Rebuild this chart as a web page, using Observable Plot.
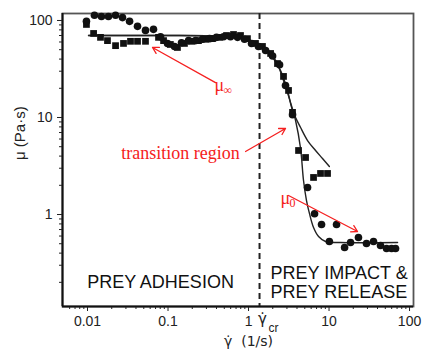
<!DOCTYPE html>
<html><head><meta charset="utf-8">
<script src="https://cdn.jsdelivr.net/npm/d3@7"></script>
<script src="https://cdn.jsdelivr.net/npm/@observablehq/plot@0.6"></script>
<style>body{margin:0;background:#fff}</style>
</head><body><div id="chart"></div>
<script>
// shear rate (1/s) and viscosity (Pa·s), circle series
const circleX = [0.0097,0.0122,0.0149,0.0182,0.0223,0.0272,0.0333,0.0418,0.0525,0.066,0.0807,0.0986,0.1205,0.147,0.18,0.22,0.268,0.328,0.40,0.489,0.597,0.73,0.892,1.09,1.33,1.63,1.99,2.43,2.88,3.52,5.41,6.61,8.07,12.4,10.1,15.6,18.5,23.2,29.2,35.7,43.6,51.8,59.8,67];
const circleY = [98,113,110,110,113,107,98,87,79,81,68,58,54,59,62,62,64,65,67,68,68,67,64,58,54,49,43,35,21.4,10.7,1.90,1.02,0.789,0.789,0.527,0.457,0.515,0.579,0.502,0.527,0.479,0.446,0.446,0.446];
// square series
const squareX = [0.0097,0.0119,0.0145,0.0177,0.0223,0.028,0.0342,0.0418,0.0525,0.0762,0.088,0.107,0.131,0.16,0.196,0.239,0.292,0.357,0.436,0.533,0.651,0.795,0.97,1.22,1.49,1.88,2.29,2.72,3.14,3.52,4.18,5.11,6.42,7.84,9.58];
const squareY = [91,73.5,67,62,55,58,61,61,61,67,62,56.6,52.7,58,61,62,64,65,67,70,71.7,70,65,58,54,45.7,36,26.5,19,11.3,4.57,3.87,2.41,2.65,2.65];
// fitted curves
const fitCircleX = [0.0103,0.0807,0.597,0.918,1.22,1.63,2.17,2.72,3.32,3.84,4.43,4.82,5.25,5.72,6.42,7.41,9.05,13.9,71];
const fitCircleY = [70,70,68.4,65,59,51.5,38.7,24.1,14.3,9.31,4.79,2.24,1.39,1.02,0.735,0.593,0.527,0.515,0.515];
const fitSquareX = [0.0103,0.0807,0.597,0.918,1.22,1.54,1.99,2.50,3.05,3.52,4.43,5.41,6.80,8.30,10.1];
const fitSquareY = [70,70,68.4,65,59,52.7,41.6,30.5,19,11.8,7.88,5.79,4.57,3.78,3.13];
const gammaCr = 1.37;
const xMajor = [0.01,0.1,1,10,100];
const xMajorLabels = ["0.01","0.1","1","10","100"];
const xMinor = [0.006,0.007,0.008,0.009,0.02,0.03,0.04,0.05,0.06,0.07,0.08,0.09,0.2,0.3,0.4,0.5,0.6,0.7,0.8,0.9,2,3,4,5,6,7,8,9,20,30,40,50,60,70,80,90];
const yMajor = [1,10,100];
const yMajorLabels = ["1","10","100"];
const yMinor = [0.2,0.3,0.4,0.5,0.6,0.7,0.8,0.9,2,3,4,5,6,7,8,9,20,30,40,50,60,70,80,90];

const circles = circleX.map((x,i)=>({x, y: circleY[i]}));
const squares = squareX.map((x,i)=>({x, y: squareY[i]}));
const fitC = fitCircleX.map((x,i)=>({x, y: fitCircleY[i]}));
const fitS = fitSquareX.map((x,i)=>({x, y: fitSquareY[i]}));
const red = "#f52020";
const serif = "Liberation Serif, DejaVu Serif, serif";
const dv = "DejaVu Sans, sans-serif";

const chart = Plot.plot({
  width: 423, height: 354,
  marginLeft: 62, marginRight: 10, marginTop: 13, marginBottom: 48,
  style: {fontFamily: "Liberation Sans, Arial, sans-serif", fontSize: "14px", color: "#222", background: "#fff"},
  x: {type: "log", domain: [0.00489, 112], axis: null},
  y: {type: "log", domain: [0.1127, 118], axis: null},
  marks: [
    Plot.axisX({ticks: xMinor, tickSize: 3, tickFormat: () => "", strokeWidth: 1}),
    Plot.axisX({ticks: xMajor, tickSize: 5, tickPadding: 5, tickFormat: (d) => xMajorLabels[xMajor.indexOf(d)], fontSize: 14}),
    Plot.axisY({ticks: yMinor, tickSize: 3, tickFormat: () => "", strokeWidth: 1}),
    Plot.axisY({ticks: yMajor, tickSize: 5, tickPadding: 5, tickFormat: (d) => yMajorLabels[yMajor.indexOf(d)], fontSize: 14}),
    Plot.frame({stroke: "#555", strokeWidth: 1.8}),
    Plot.ruleX([0.00489], {stroke: "#111", strokeWidth: 2}),
    Plot.ruleY([0.1127], {stroke: "#111", strokeWidth: 2}),
    Plot.ruleX([gammaCr], {stroke: "#222", strokeWidth: 2, strokeDasharray: "6,4"}),
    Plot.line(fitS, {x: "x", y: "y", curve: "catmull-rom", stroke: "#222", strokeWidth: 1.4}),
    Plot.line(fitC, {x: "x", y: "y", curve: "catmull-rom", stroke: "#222", strokeWidth: 1.4}),
    Plot.dot(squares, {x: "x", y: "y", symbol: "square", r: 3.8, fill: "#111", stroke: "none"}),
    Plot.dot(circles, {x: "x", y: "y", symbol: "circle", r: 3.8, fill: "#111", stroke: "none"}),
    // annotations
    Plot.arrow([{x1: 0.389, y1: 22.9, x2: 0.0642, y2: 52.7}], {x1: "x1", y1: "y1", x2: "x2", y2: "y2", stroke: red, strokeWidth: 1.3, headLength: 8}),
    Plot.text([{x: 0.424, y: 21.4}], {x: "x", y: "y", text: () => "μ", fill: red, fontFamily: serif, fontSize: 18, textAnchor: "start", dx: -4}),
    Plot.text([{x: 0.424, y: 21.4}], {x: "x", y: "y", text: () => "∞", fill: red, fontFamily: serif, fontSize: 12, textAnchor: "start", dx: 5, dy: 5}),
    Plot.arrow([{x1: 0.918, y1: 4.46, x2: 2.88, y2: 7.70}], {x1: "x1", y1: "y1", x2: "x2", y2: "y2", stroke: red, strokeWidth: 1.3, headLength: 8}),
    Plot.text([{x: 0.143, y: 4.26}], {x: "x", y: "y", text: () => "transition region", fill: red, fontFamily: serif, fontSize: 18}),
    Plot.arrow([{x1: 3.14, y1: 1.57, x2: 22.6, y2: 0.668}], {x1: "x1", y1: "y1", x2: "x2", y2: "y2", stroke: red, strokeWidth: 1.3, headLength: 8}),
    Plot.text([{x: 2.72, y: 1.46}], {x: "x", y: "y", text: () => "μ", fill: red, fontFamily: serif, fontSize: 18, textAnchor: "start", dx: -3}),
    Plot.text([{x: 2.72, y: 1.46}], {x: "x", y: "y", text: () => "0", fill: red, fontFamily: serif, fontSize: 12, textAnchor: "start", dx: 6, dy: 5}),
    // region labels
    Plot.text([{x: 0.0807, y: 0.199}], {x: "x", y: "y", text: () => "PREY ADHESION", fontSize: 18, fill: "#111"}),
    Plot.text([{x: 1.88, y: 0.246}], {x: "x", y: "y", text: () => "PREY IMPACT &", fontSize: 18, fill: "#111", textAnchor: "start"}),
    Plot.text([{x: 1.88, y: 0.157}], {x: "x", y: "y", text: () => "PREY RELEASE", fontSize: 18, fill: "#111", textAnchor: "start"}),
    // gamma_cr label under axis
    Plot.text([gammaCr], {x: (d) => d, frameAnchor: "bottom", text: () => "γ̇", fontFamily: dv, fontSize: 15, dy: 17, dx: 3, fill: "#222"}),
    Plot.text([gammaCr], {x: (d) => d, frameAnchor: "bottom", text: () => "cr", fontSize: 12, dy: 25, dx: 14, fill: "#222"}),
    // axis titles
    Plot.text([1], {x: (d) => d, frameAnchor: "bottom", text: () => "γ̇  (1/s)", fontFamily: dv, fontSize: 14, dy: 39, fill: "#222"}),
    Plot.text(["μ (Pa·s)"], {frameAnchor: "left", rotate: -90, dx: -42, fontSize: 15, fill: "#222"})
  ]
});
document.getElementById("chart").appendChild(chart);
</script>
</body></html>
